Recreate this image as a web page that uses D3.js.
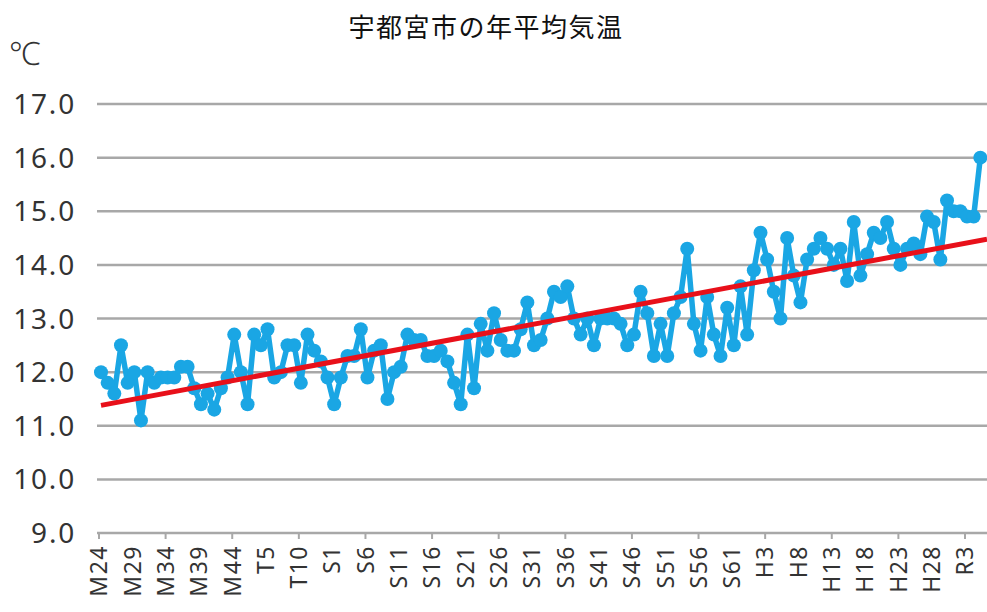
<!DOCTYPE html>
<html><head><meta charset="utf-8">
<script src="https://cdn.jsdelivr.net/npm/d3@7/dist/d3.min.js"></script>
<style>
html,body{margin:0;padding:0;background:#fff;overflow:hidden;}
svg{display:block;}
</style></head>
<body>
<svg id="chart" width="987" height="612"></svg>
<script>
// ---- data ----
const startYear = 1891; // M24
const temps = [
  12.0, 11.8, 11.6, 12.5, 11.8, 12.0, 11.1, 12.0, 11.8, 11.9,   // 1891-1900
  11.9, 11.9, 12.1, 12.1, 11.7, 11.4, 11.6, 11.3, 11.7, 11.9,   // 1901-1910
  12.7, 12.0, 11.4, 12.7, 12.5, 12.8, 11.9, 12.0, 12.5, 12.5,   // 1911-1920
  11.8, 12.7, 12.4, 12.2, 11.9, 11.4, 11.9, 12.3, 12.3, 12.8,   // 1921-1930
  11.9, 12.4, 12.5, 11.5, 12.0, 12.1, 12.7, 12.6, 12.6, 12.3,   // 1931-1940
  12.3, 12.4, 12.2, 11.8, 11.4, 12.7, 11.7, 12.9, 12.4, 13.1,   // 1941-1950
  12.6, 12.4, 12.4, 12.8, 13.3, 12.5, 12.6, 13.0, 13.5, 13.4,   // 1951-1960
  13.6, 13.0, 12.7, 13.0, 12.5, 13.0, 13.0, 13.0, 12.9, 12.5,   // 1961-1970
  12.7, 13.5, 13.1, 12.3, 12.9, 12.3, 13.1, 13.4, 14.3, 12.9,   // 1971-1980
  12.4, 13.4, 12.7, 12.3, 13.2, 12.5, 13.6, 12.7, 13.9, 14.6,   // 1981-1990
  14.1, 13.5, 13.0, 14.5, 13.8, 13.3, 14.1, 14.3, 14.5, 14.3,   // 1991-2000
  14.0, 14.3, 13.7, 14.8, 13.8, 14.2, 14.6, 14.5, 14.8, 14.3,   // 2001-2010
  14.0, 14.3, 14.4, 14.2, 14.9, 14.8, 14.1, 15.2, 15.0, 15.0,   // 2011-2020
  14.9, 14.9, 16.0                                               // 2021-2023
];
const years = temps.map((_, i) => startYear + i);
const trendYears = [1891, 2024];
const trendValues = [11.38, 14.48];
const yTicks = [9, 10, 11, 12, 13, 14, 15, 16, 17];
const labelYears = [1891,1896,1901,1906,1911,1916,1921,1926,1931,1936,1941,1946,1951,1956,1961,1966,1971,1976,1981,1986,1991,1996,2001,2006,2011,2016,2021];
const labelNames = ["M24","M29","M34","M39","M44","T5","T10","S1","S6","S11","S16","S21","S26","S31","S36","S41","S46","S51","S56","S61","H3","H8","H13","H18","H23","H28","R3"];
const tickYears = [1891,1901,1911,1921,1931,1941,1951,1961,1971,1981,1991,2001,2011,2021];
const titleText = "宇都宮市の年平均気温";
const unitText = "℃";

// ---- layout ----
const svg = d3.select("#chart");
const x = d3.scaleLinear().domain([1891, 2021]).range([101, 967]);
const y = d3.scaleLinear().domain([9, 17]).range([533, 104]);
const plotLeft = 97, plotRight = 987;

svg.append("text").attr("x", 486).attr("y", 37).attr("text-anchor", "middle")
  .attr("font-family", "'Noto Sans CJK JP', sans-serif").attr("font-size", 26)
  .attr("letter-spacing", 1.5).attr("fill", "#111").text(titleText);

svg.append("text").attr("x", 9).attr("y", 65)
  .attr("font-family", "'Noto Sans', 'DejaVu Sans', sans-serif").attr("font-size", 32)
  .attr("font-weight", 300).attr("fill", "#333").text(unitText);

// gridlines + y labels
const gy = svg.append("g");
yTicks.forEach(v => {
  gy.append("line").attr("x1", plotLeft).attr("x2", plotRight)
    .attr("y1", y(v)).attr("y2", y(v))
    .attr("stroke", "#a8a8a8").attr("stroke-width", 2.5);
  gy.append("text").attr("x", 76).attr("y", y(v)).attr("dy", "0.36em")
    .attr("text-anchor", "end")
    .attr("font-family", "'Noto Sans', sans-serif").attr("font-size", 28)
    .attr("letter-spacing", 1.8).attr("fill", "#333").text(v.toFixed(1));
});

// x ticks
tickYears.forEach(t => {
  svg.append("line").attr("x1", x(t) - 2).attr("x2", x(t) - 2)
    .attr("y1", y(9)).attr("y2", y(9) + 6)
    .attr("stroke", "#a8a8a8").attr("stroke-width", 2);
});
// x labels
labelYears.forEach((t, i) => {
  const px = x(t) - 2, py = 545;
  svg.append("text").attr("transform", `translate(${px},${py}) rotate(-90)`)
    .attr("text-anchor", "end").attr("dy", "0.36em")
    .attr("font-family", "'Noto Sans', sans-serif").attr("font-size", 23)
    .attr("letter-spacing", 1.5).attr("fill", "#333").text(labelNames[i]);
});

// data line
const line = d3.line().x((d, i) => x(years[i])).y(d => y(d));
svg.append("path").datum(temps).attr("d", line)
  .attr("fill", "none").attr("stroke", "#1aa6e4").attr("stroke-width", 5.5)
  .attr("stroke-linejoin", "round");
svg.append("g").selectAll("circle").data(temps).join("circle")
  .attr("cx", (d, i) => x(years[i])).attr("cy", d => y(d)).attr("r", 7)
  .attr("fill", "#1aa6e4");

// trend line
svg.append("line")
  .attr("x1", x(trendYears[0])).attr("y1", y(trendValues[0]))
  .attr("x2", x(trendYears[1])).attr("y2", y(trendValues[1]))
  .attr("stroke", "#e8101a").attr("stroke-width", 5);
</script>
</body></html>
